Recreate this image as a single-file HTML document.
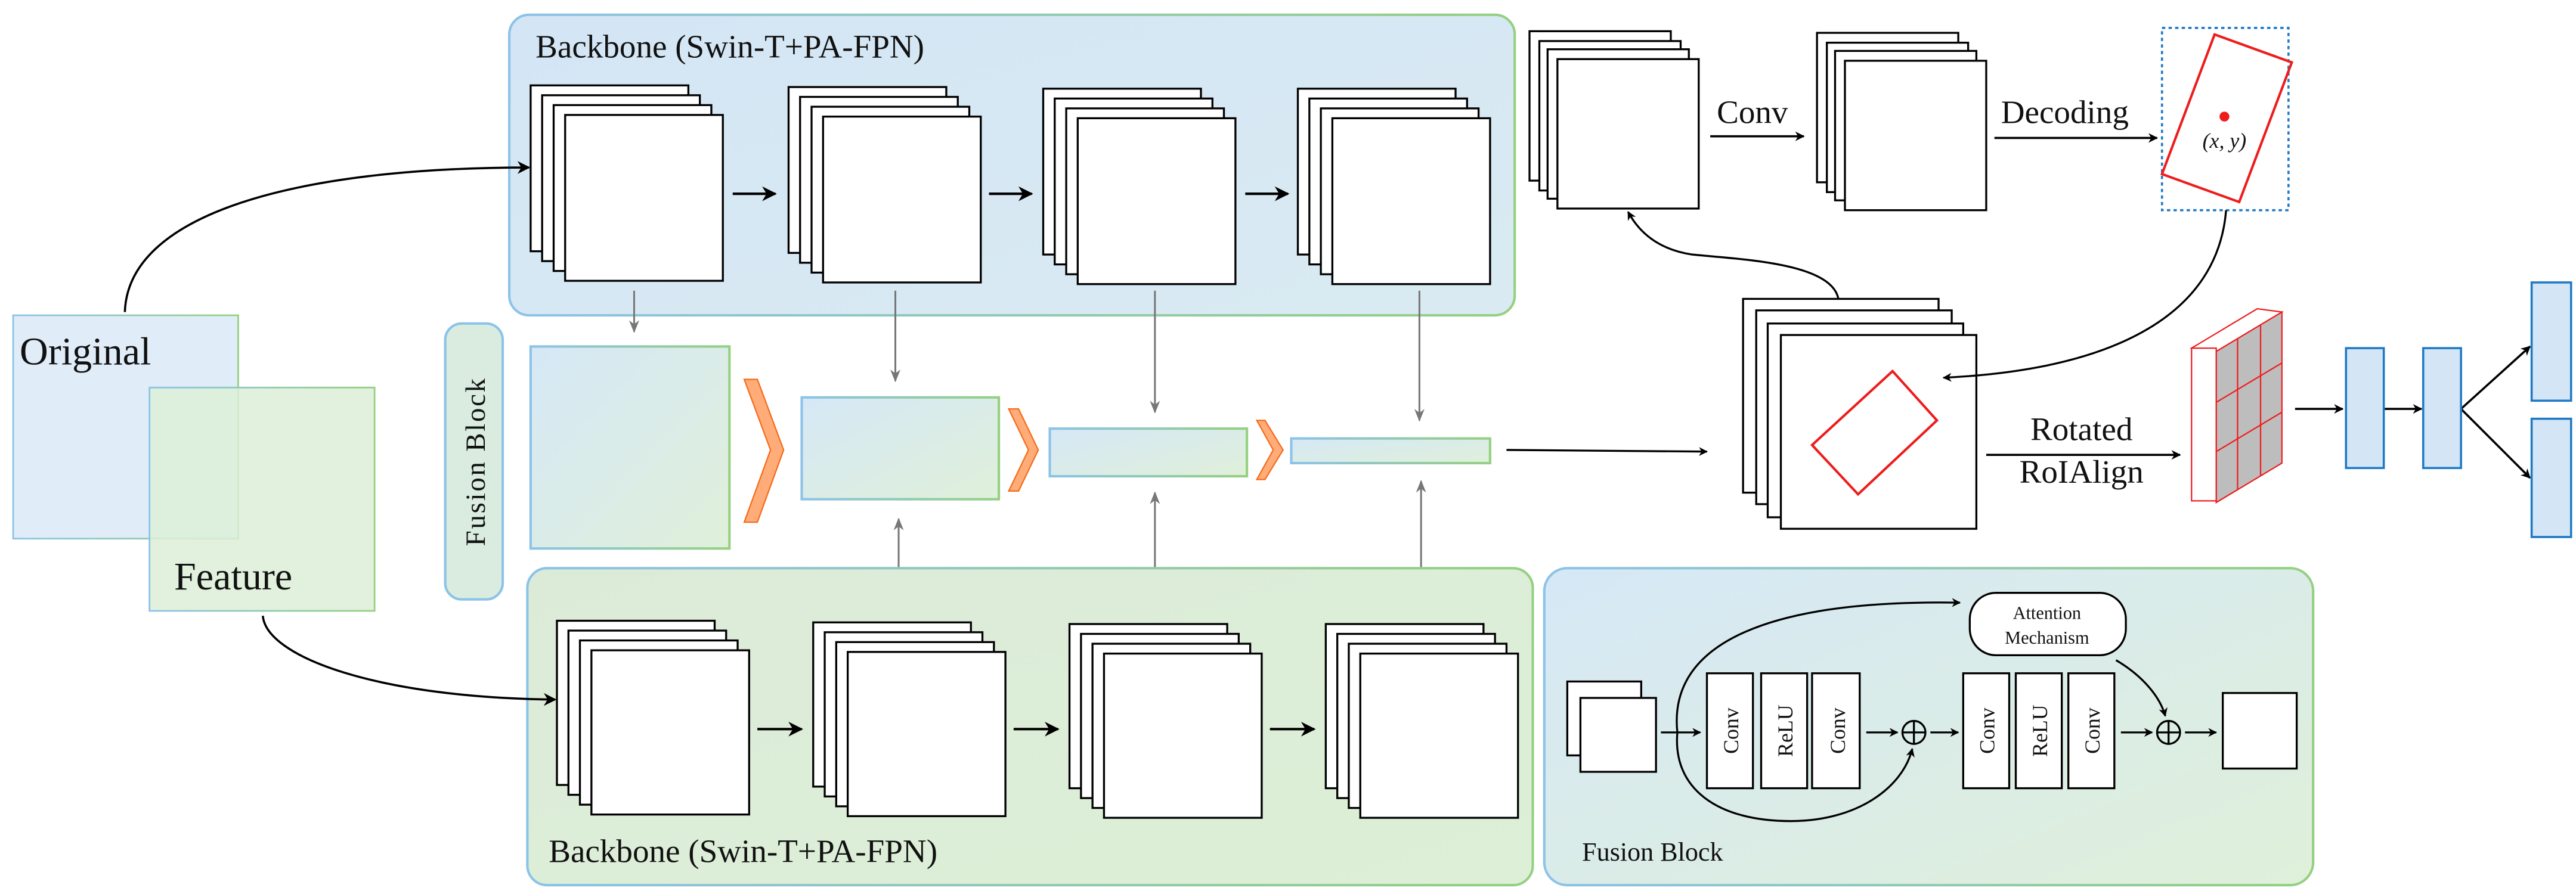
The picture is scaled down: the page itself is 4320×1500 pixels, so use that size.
<!DOCTYPE html>
<html><head><meta charset="utf-8"><style>
html,body{margin:0;padding:0;background:#fff;width:4320px;height:1500px;overflow:hidden}
svg{display:block}
svg text{font-family:"Liberation Serif","DejaVu Serif",serif !important;fill:#111}
</style></head><body>
<svg width="4320" height="1500" viewBox="0 0 1568 544.4" preserveAspectRatio="none" xmlns="http://www.w3.org/2000/svg" font-family="Liberation Serif, serif">
<defs>
<linearGradient id="fbg" x1="0" y1="0" x2="1" y2="1"><stop offset="0" stop-color="#d6e8f6"/><stop offset="1" stop-color="#dff0da"/></linearGradient>
<linearGradient id="topbg" x1="0" y1="0" x2="1" y2="1"><stop offset="0" stop-color="#d4e6f5"/><stop offset="1" stop-color="#d9eaf2"/></linearGradient>
<linearGradient id="botbg" x1="0" y1="0" x2="1" y2="1"><stop offset="0" stop-color="#dcebd8"/><stop offset="1" stop-color="#ddefd7"/></linearGradient>
<linearGradient id="str" x1="0" y1="0" x2="1" y2="0"><stop offset="0" stop-color="#8cc3e8"/><stop offset="1" stop-color="#95d080"/></linearGradient>
<marker id="ah" viewBox="0 0 10 10" refX="9" refY="5" markerWidth="4.5" markerHeight="4.5" orient="auto"><path d="M0,0 L10,5 L0,10 L3,5 Z" fill="#000"/></marker>
<marker id="ahs" viewBox="0 0 10 10" refX="9" refY="5" markerWidth="6" markerHeight="6" orient="auto"><path d="M0,0 L10,5 L0,10 L3,5 Z" fill="#000"/></marker>
<marker id="ag" viewBox="0 0 10 10" refX="9" refY="5" markerWidth="7" markerHeight="7" orient="auto"><path d="M0,1 L10,5 L0,9 L3,5 Z" fill="#777"/></marker>
</defs>

<!-- Original / Feature -->
<rect x="8" y="192" width="137" height="136" fill="#e0edf8" stroke="url(#str)" stroke-width="1"/>
<rect x="91" y="236" width="137" height="136" fill="#dcefd8" fill-opacity="0.85" stroke="url(#str)" stroke-width="1"/>
<text x="12" y="222" font-size="24">Original</text>
<text x="106" y="359" font-size="24">Feature</text>

<!-- top backbone -->
<rect x="310" y="9" width="612" height="183" rx="12" fill="url(#topbg)" stroke="url(#str)" stroke-width="1.5"/>
<text x="326" y="35" font-size="20">Backbone (Swin-T+PA-FPN)</text>
<g fill="#fff" stroke="#000" stroke-width="1.2">
<rect x="323" y="52" width="96" height="101"/><rect x="330" y="58" width="96" height="101"/><rect x="337" y="64" width="96" height="101"/><rect x="344" y="70" width="96" height="101"/>
<rect x="480" y="53" width="96" height="101"/><rect x="487" y="59" width="96" height="101"/><rect x="494" y="65" width="96" height="101"/><rect x="501" y="71" width="96" height="101"/>
<rect x="635" y="54" width="96" height="101"/><rect x="642" y="60" width="96" height="101"/><rect x="649" y="66" width="96" height="101"/><rect x="656" y="72" width="96" height="101"/>
<rect x="790" y="54" width="96" height="101"/><rect x="797" y="60" width="96" height="101"/><rect x="804" y="66" width="96" height="101"/><rect x="811" y="72" width="96" height="101"/>
</g>
<g stroke="#000" stroke-width="1.5" marker-end="url(#ahs)">
<line x1="446" y1="118" x2="472" y2="118"/><line x1="602" y1="118" x2="628" y2="118"/><line x1="758" y1="118" x2="784" y2="118"/>
</g>

<!-- Fusion Block pill -->
<rect x="271" y="197" width="35" height="168" rx="10" fill="#d9ecdf" stroke="#8cc3e8" stroke-width="1.5"/>
<text transform="translate(295,281) rotate(-90)" font-size="17" text-anchor="middle" letter-spacing="1">Fusion Block</text>

<!-- middle features -->
<rect x="323" y="211" width="121" height="123" fill="url(#fbg)" stroke="url(#str)" stroke-width="1.5"/>
<rect x="488" y="242" width="120" height="62" fill="url(#fbg)" stroke="url(#str)" stroke-width="1.5"/>
<rect x="639" y="261" width="120" height="29" fill="url(#fbg)" stroke="url(#str)" stroke-width="1.5"/>
<rect x="786" y="267" width="121" height="15" fill="url(#fbg)" stroke="url(#str)" stroke-width="1.5"/>
<g fill="#ffac78" stroke="#f46a1a" stroke-width="0.8">
<polygon points="453,231 461,231 477,274 461,318 453,318 469,274"/>
<polygon points="614,249 620,249 632,274 620,299 614,299 626,274"/>
<polygon points="765,256 770,256 781,274 770,292 765,292 775,274"/>
</g>
<g stroke="#777" stroke-width="1.1" marker-end="url(#ag)">
<line x1="386" y1="177" x2="386" y2="202"/><line x1="545" y1="177" x2="545" y2="232"/><line x1="703" y1="177" x2="703" y2="251"/><line x1="864" y1="177" x2="864" y2="256"/>
<line x1="391" y1="372" x2="391" y2="346"/><line x1="547" y1="370" x2="547" y2="316"/><line x1="703" y1="373" x2="703" y2="300"/><line x1="865" y1="372" x2="865" y2="293"/>
</g>

<!-- bottom backbone -->
<rect x="321" y="346" width="612" height="193" rx="12" fill="url(#botbg)" stroke="url(#str)" stroke-width="1.5"/>
<text x="334" y="525" font-size="20">Backbone (Swin-T+PA-FPN)</text>
<g fill="#fff" stroke="#000" stroke-width="1.2">
<rect x="339" y="378" width="96" height="100"/><rect x="346" y="384" width="96" height="100"/><rect x="353" y="390" width="96" height="100"/><rect x="360" y="396" width="96" height="100"/>
<rect x="495" y="379" width="96" height="100"/><rect x="502" y="385" width="96" height="100"/><rect x="509" y="391" width="96" height="100"/><rect x="516" y="397" width="96" height="100"/>
<rect x="651" y="380" width="96" height="100"/><rect x="658" y="386" width="96" height="100"/><rect x="665" y="392" width="96" height="100"/><rect x="672" y="398" width="96" height="100"/>
<rect x="807" y="380" width="96" height="100"/><rect x="814" y="386" width="96" height="100"/><rect x="821" y="392" width="96" height="100"/><rect x="828" y="398" width="96" height="100"/>
</g>
<g stroke="#000" stroke-width="1.5" marker-end="url(#ahs)">
<line x1="461" y1="444" x2="488" y2="444"/><line x1="617" y1="444" x2="644" y2="444"/><line x1="773" y1="444" x2="800" y2="444"/>
</g>

<!-- input curves (on top) -->
<path d="M76,190 C78,130 180,102 322,102" fill="none" stroke="#000" stroke-width="1.3" marker-end="url(#ahs)"/>
<path d="M160,375 C162,400 230,425 338,426" fill="none" stroke="#000" stroke-width="1.3" marker-end="url(#ahs)"/>

<!-- top right stacks -->
<g fill="#fff" stroke="#000" stroke-width="1.2">
<rect x="931" y="19" width="86" height="91"/><rect x="937" y="25" width="86" height="91"/><rect x="942" y="30" width="86" height="91"/><rect x="948" y="36" width="86" height="91"/>
<rect x="1106" y="20" width="86" height="91"/><rect x="1112" y="26" width="86" height="91"/><rect x="1117" y="31" width="86" height="91"/><rect x="1123" y="37" width="86" height="91"/>
</g>
<line x1="1041" y1="83" x2="1098" y2="83" stroke="#000" stroke-width="1.3" marker-end="url(#ah)"/>
<text x="1045" y="75" font-size="20">Conv</text>
<line x1="1214" y1="84" x2="1313" y2="84" stroke="#000" stroke-width="1.3" marker-end="url(#ah)"/>
<text x="1218" y="75" font-size="20">Decoding</text>
<rect x="1316" y="17" width="77" height="111" fill="#fff" stroke="#1f7ac6" stroke-width="1.3" stroke-dasharray="2,2"/>
<polygon points="1348,21 1395,38 1363,123 1316,106" fill="none" stroke="#ee1c1c" stroke-width="1.5"/>
<circle cx="1354" cy="71" r="3" fill="#ee1c1c"/>
<text x="1354" y="90" font-size="13" font-style="italic" text-anchor="middle">(x, y)</text>

<!-- middle stack -->
<g fill="#fff" stroke="#000" stroke-width="1.2">
<rect x="1061" y="182" width="119" height="118"/><rect x="1069" y="189" width="119" height="118"/><rect x="1076" y="197" width="119" height="118"/><rect x="1084" y="204" width="119" height="118"/>
</g>
<polygon points="1152,226 1179,256 1131,301 1103,271" fill="none" stroke="#ee1c1c" stroke-width="1.5"/>
<path d="M1119,182 C1115,160 1060,158 1030,155 C1010,152 998,142 991,129" fill="none" stroke="#000" stroke-width="1.2" marker-end="url(#ah)"/>
<path d="M1355,128 C1350,190 1290,225 1183,230" fill="none" stroke="#000" stroke-width="1.2" marker-end="url(#ah)"/>
<line x1="917" y1="274" x2="1039" y2="275" stroke="#000" stroke-width="1.2" marker-end="url(#ah)"/>
<line x1="1209" y1="277" x2="1327" y2="277" stroke="#000" stroke-width="1.3" marker-end="url(#ah)"/>
<text x="1267" y="268" font-size="20" text-anchor="middle">Rotated</text>
<text x="1267" y="294" font-size="20" text-anchor="middle">RoIAlign</text>

<!-- cuboid -->
<polygon points="1334,212 1374,188 1389,190 1349,214" fill="#fff" stroke="#ee1c1c" stroke-width="0.8"/>
<polygon points="1349,214 1389,190 1389,282 1349,306" fill="#bdbdbd" stroke="#ee1c1c" stroke-width="0.8"/>
<rect x="1334" y="212" width="15" height="93" fill="#fff" stroke="#ee1c1c" stroke-width="0.8"/>
<g stroke="#ee1c1c" stroke-width="0.8">
<line x1="1362" y1="206" x2="1362" y2="298"/><line x1="1376" y1="198" x2="1376" y2="290"/>
<line x1="1349" y1="245" x2="1389" y2="221"/><line x1="1349" y1="275" x2="1389" y2="251"/>
</g>
<g stroke="#000" stroke-width="1.3" marker-end="url(#ah)">
<line x1="1397" y1="249" x2="1426" y2="249"/><line x1="1451" y1="249" x2="1474" y2="249"/>
<line x1="1498" y1="249" x2="1540" y2="211"/><line x1="1498" y1="249" x2="1540" y2="291"/>
</g>
<g fill="#d4e6f5" stroke="#1f7ac6" stroke-width="1.3">
<rect x="1428" y="212" width="23" height="73"/><rect x="1475" y="212" width="23" height="73"/>
<rect x="1541" y="172" width="24" height="72"/><rect x="1541" y="255" width="24" height="72"/>
</g>

<!-- fusion block detail -->
<rect x="940" y="346" width="468" height="193" rx="14" fill="url(#fbg)" stroke="url(#str)" stroke-width="1.5"/>
<text x="963" y="524" font-size="16">Fusion Block</text>
<g fill="#fff" stroke="#000" stroke-width="1.2">
<rect x="954" y="415" width="45" height="45"/><rect x="962" y="425" width="46" height="45"/>
<rect x="1039" y="410" width="28" height="70"/><rect x="1072" y="410" width="28" height="70"/><rect x="1103" y="410" width="29" height="70"/>
<rect x="1195" y="410" width="28" height="70"/><rect x="1227" y="410" width="28" height="70"/><rect x="1259" y="410" width="28" height="70"/>
<rect x="1353" y="422" width="45" height="46"/>
<rect x="1199" y="361" width="95" height="38" rx="16"/>
</g>
<g font-size="13" text-anchor="middle">
<text transform="translate(1058,445) rotate(-90)">Conv</text>
<text transform="translate(1091,445) rotate(-90)">ReLU</text>
<text transform="translate(1123,445) rotate(-90)">Conv</text>
<text transform="translate(1214,445) rotate(-90)">Conv</text>
<text transform="translate(1246,445) rotate(-90)">ReLU</text>
<text transform="translate(1278,445) rotate(-90)">Conv</text>
</g>
<text x="1246" y="377" font-size="11" text-anchor="middle">Attention</text>
<text x="1246" y="392" font-size="11" text-anchor="middle">Mechanism</text>
<g stroke="#000" stroke-width="1.2" marker-end="url(#ah)">
<line x1="1011" y1="446" x2="1035" y2="446"/><line x1="1136" y1="446" x2="1155" y2="446"/><line x1="1175" y1="446" x2="1192" y2="446"/>
<line x1="1291" y1="446" x2="1310" y2="446"/><line x1="1330" y1="446" x2="1349" y2="446"/>
</g>
<g fill="none" stroke="#000" stroke-width="1.2">
<circle cx="1165" cy="446" r="7"/><line x1="1158" y1="446" x2="1172" y2="446"/><line x1="1165" y1="439" x2="1165" y2="453"/>
<circle cx="1320" cy="446" r="7"/><line x1="1313" y1="446" x2="1327" y2="446"/><line x1="1320" y1="439" x2="1320" y2="453"/>
<path d="M1021,446 C1015,390 1080,365 1193,367" marker-end="url(#ah)"/>
<path d="M1021,446 C1018,480 1045,500 1090,500 C1130,500 1158,480 1164,456" marker-end="url(#ah)"/>
<path d="M1288,402 C1305,412 1315,425 1318,436" marker-end="url(#ah)"/>
</g>
</svg>
</body></html>
